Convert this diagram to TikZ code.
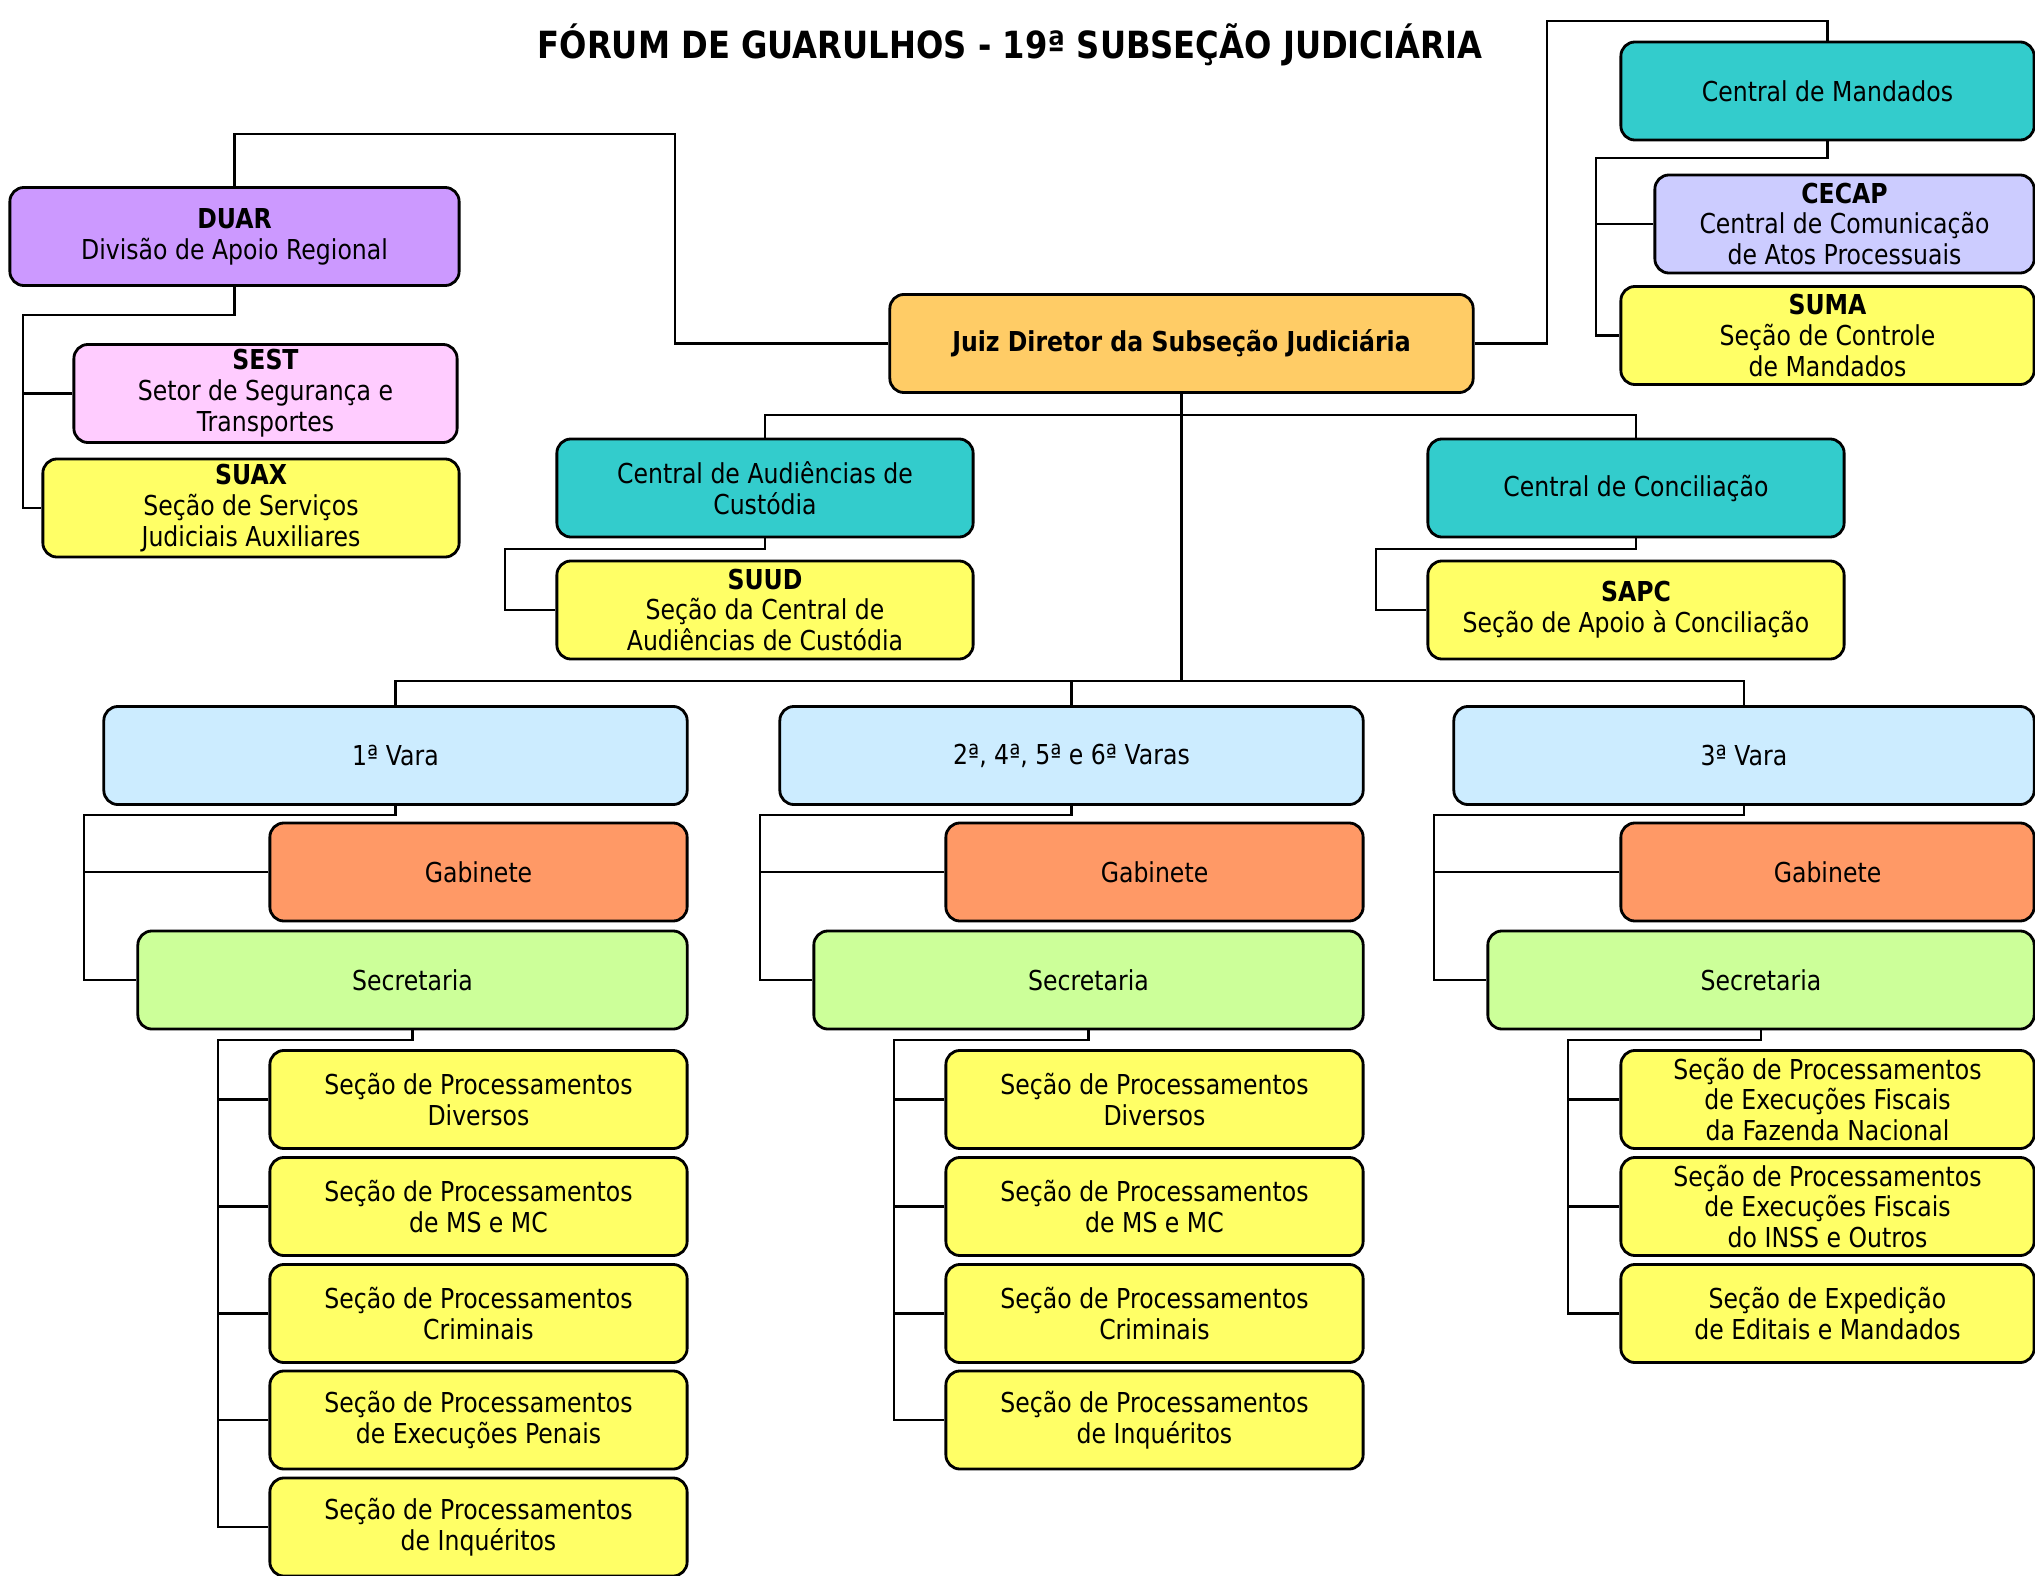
\documentclass[tikz,border=0pt]{standalone}
\usepackage{fontspec}
\setmainfont{DejaVu Sans}[FakeStretch=0.86]
\definecolor{orgpurple}{HTML}{CC99FF}
\definecolor{orgpink}{HTML}{FFCCFF}
\definecolor{orgyellow}{HTML}{FFFF66}
\definecolor{orggold}{HTML}{FFCC66}
\definecolor{orgteal}{HTML}{33CCCC}
\definecolor{orglilac}{HTML}{CCCCFF}
\definecolor{orgsky}{HTML}{CCECFF}
\definecolor{orgorange}{HTML}{FF9966}
\definecolor{orggreen}{HTML}{CCFF99}
\newcommand{\orgfont}{\fontsize{7.8pt}{8.8pt}\selectfont}
\newcommand{\titlefont}{\fontsize{10.65pt}{12pt}\selectfont\bfseries}

\begin{document}
\begin{tikzpicture}[
  x=0.01cm,y=-0.01cm,
  every node/.style={font=\orgfont},
  orgbox/.style={draw,rounded corners=4pt,line width=0.8pt,align=center,
                 inner xsep=2pt,inner ysep=0pt,minimum height=0.98cm},
  varabox/.style={orgbox,fill=orgsky,minimum width=5.83cm},
  gabbox/.style={orgbox,fill=orgorange,minimum width=4.17cm},
  secbox/.style={orgbox,fill=orggreen,minimum width=5.49cm},
  procbox/.style={orgbox,fill=orgyellow,minimum width=4.17cm},
  link/.style={line width=0.6pt},
]
  \useasboundingbox (0,0) rectangle (2035,1576);
  % Title
  \node[font=\titlefont] (title) at (1010,45) {FÓRUM DE GUARULHOS - 19ª SUBSEÇÃO JUDICIÁRIA};

  % Direction
  \node[orgbox,fill=orggold,minimum width=5.83cm] (juiz) at (1181.5,343.5)
    {\textbf{Juiz Diretor da Subseção Judiciária}};

  % Regional support
  \node[orgbox,fill=orgpurple,minimum width=4.49cm] (duar) at (234.5,236.5)
    {\textbf{DUAR}\\Divisão de Apoio Regional};
  \node[orgbox,fill=orgpink,minimum width=3.83cm] (sest) at (265.5,393.5)
    {\textbf{SEST}\\Setor de Segurança e\\Transportes};
  \node[orgbox,fill=orgyellow,minimum width=4.16cm] (suax) at (251,508)
    {\textbf{SUAX}\\Seção de Serviços\\Judiciais Auxiliares};

  % Mandados
  \node[orgbox,fill=orgteal,minimum width=4.13cm] (mand) at (1827.5,91)
    {Central de Mandados};
  \node[orgbox,fill=orglilac,minimum width=3.79cm] (cecap) at (1844.5,224)
    {\textbf{CECAP}\\Central de Comunicação\\de Atos Processuais};
  \node[orgbox,fill=orgyellow,minimum width=4.13cm] (suma) at (1827.5,335.5)
    {\textbf{SUMA}\\Seção de Controle\\de Mandados};

  % Centrals
  \node[orgbox,fill=orgteal,minimum width=4.16cm] (cac) at (765,488)
    {Central de Audiências de\\Custódia};
  \node[orgbox,fill=orgyellow,minimum width=4.16cm] (suud) at (765,610)
    {\textbf{SUUD}\\Seção da Central de\\Audiências de Custódia};
  \node[orgbox,fill=orgteal,minimum width=4.16cm] (ccon) at (1636,488)
    {Central de Conciliação};
  \node[orgbox,fill=orgyellow,minimum width=4.16cm] (sapc) at (1636,610)
    {\textbf{SAPC}\\Seção de Apoio à Conciliação};

  % 1a Vara
  \node[varabox] (v1) at (395.5,755.5) {1ª Vara};
  \node[gabbox] (gab1) at (478.5,872) {Gabinete};
  \node[secbox] (sec1) at (412.5,980) {Secretaria};
  \node[procbox] (p11) at (478.5,1099.5) {Seção de Processamentos\\Diversos};
  \node[procbox] (p12) at (478.5,1206.5) {Seção de Processamentos\\de MS e MC};
  \node[procbox] (p13) at (478.5,1313.5) {Seção de Processamentos\\Criminais};
  \node[procbox] (p14) at (478.5,1420) {Seção de Processamentos\\de Execuções Penais};
  \node[procbox] (p15) at (478.5,1527) {Seção de Processamentos\\de Inquéritos};

  % 2a, 4a, 5a e 6a Varas
  \node[varabox] (v2) at (1071.5,755.5) {2ª, 4ª, 5ª e 6ª Varas};
  \node[gabbox] (gab2) at (1154.5,872) {Gabinete};
  \node[secbox] (sec2) at (1088.5,980) {Secretaria};
  \node[procbox] (p21) at (1154.5,1099.5) {Seção de Processamentos\\Diversos};
  \node[procbox] (p22) at (1154.5,1206.5) {Seção de Processamentos\\de MS e MC};
  \node[procbox] (p23) at (1154.5,1313.5) {Seção de Processamentos\\Criminais};
  \node[procbox] (p24) at (1154.5,1420) {Seção de Processamentos\\de Inquéritos};

  % 3a Vara
  \node[varabox,minimum width=5.80cm] (v3) at (1744,755.5) {3ª Vara};
  \node[gabbox,minimum width=4.13cm] (gab3) at (1827.5,872) {Gabinete};
  \node[secbox,minimum width=5.46cm] (sec3) at (1761,980) {Secretaria};
  \node[procbox,minimum width=4.13cm] (p31) at (1827.5,1099.5) {Seção de Processamentos\\de Execuções Fiscais\\da Fazenda Nacional};
  \node[procbox,minimum width=4.13cm] (p32) at (1827.5,1206.5) {Seção de Processamentos\\de Execuções Fiscais\\do INSS e Outros};
  \node[procbox,minimum width=4.13cm] (p33) at (1827.5,1313.5) {Seção de Expedição\\de Editais e Mandados};

  % bend points
  \coordinate (duarbend) at (675,134);
  \coordinate (duarbus) at (23,315);
  \coordinate (mandbend) at (1547,21);
  \coordinate (mandbus) at (1596,158);
  \coordinate (centbus) at (1181.5,415);
  \coordinate (cacbus) at (505,549);
  \coordinate (cconbus) at (1376,549);
  \coordinate (varabus) at (1181.5,681);
  \coordinate (v1bus) at (84,815);
  \coordinate (v2bus) at (760,815);
  \coordinate (v3bus) at (1434,815);
  \coordinate (s1bus) at (218,1040);
  \coordinate (s2bus) at (894,1040);
  \coordinate (s3bus) at (1568,1040);

  % connectors
  \draw[link] (juiz.west) -| (duarbend) -| (duar.north);
  \draw[link] (duar.south) |- (duarbus) |- (suax.west);
  \draw[link] (sest.west) -| (duarbus);
  \draw[link] (juiz.east) -| (mandbend) -| (mand.north);
  \draw[link] (mand.south) |- (mandbus) |- (suma.west);
  \draw[link] (cecap.west) -| (mandbus);
  \draw[link] (juiz.south) -- (varabus);
  \draw[link] (cac.north) |- (centbus) -| (ccon.north);
  \draw[link] (cac.south) |- (cacbus) |- (suud.west);
  \draw[link] (ccon.south) |- (cconbus) |- (sapc.west);
  \draw[link] (v1.north) |- (varabus) -| (v3.north);
  \draw[link] (v2.north) -- (v2.north |- varabus);
  \foreach \v in {1,2,3} {
    \draw[link] (v\v.south) |- (v\v bus) |- (sec\v.west);
    \draw[link] (gab\v.west) -| (v\v bus);
  }
  \draw[link] (sec1.south) |- (s1bus) |- (p15.west);
  \foreach \p in {11,12,13,14} \draw[link] (p\p.west) -| (s1bus);
  \draw[link] (sec2.south) |- (s2bus) |- (p24.west);
  \foreach \p in {21,22,23} \draw[link] (p\p.west) -| (s2bus);
  \draw[link] (sec3.south) |- (s3bus) |- (p33.west);
  \foreach \p in {31,32} \draw[link] (p\p.west) -| (s3bus);
\end{tikzpicture}
\end{document}
